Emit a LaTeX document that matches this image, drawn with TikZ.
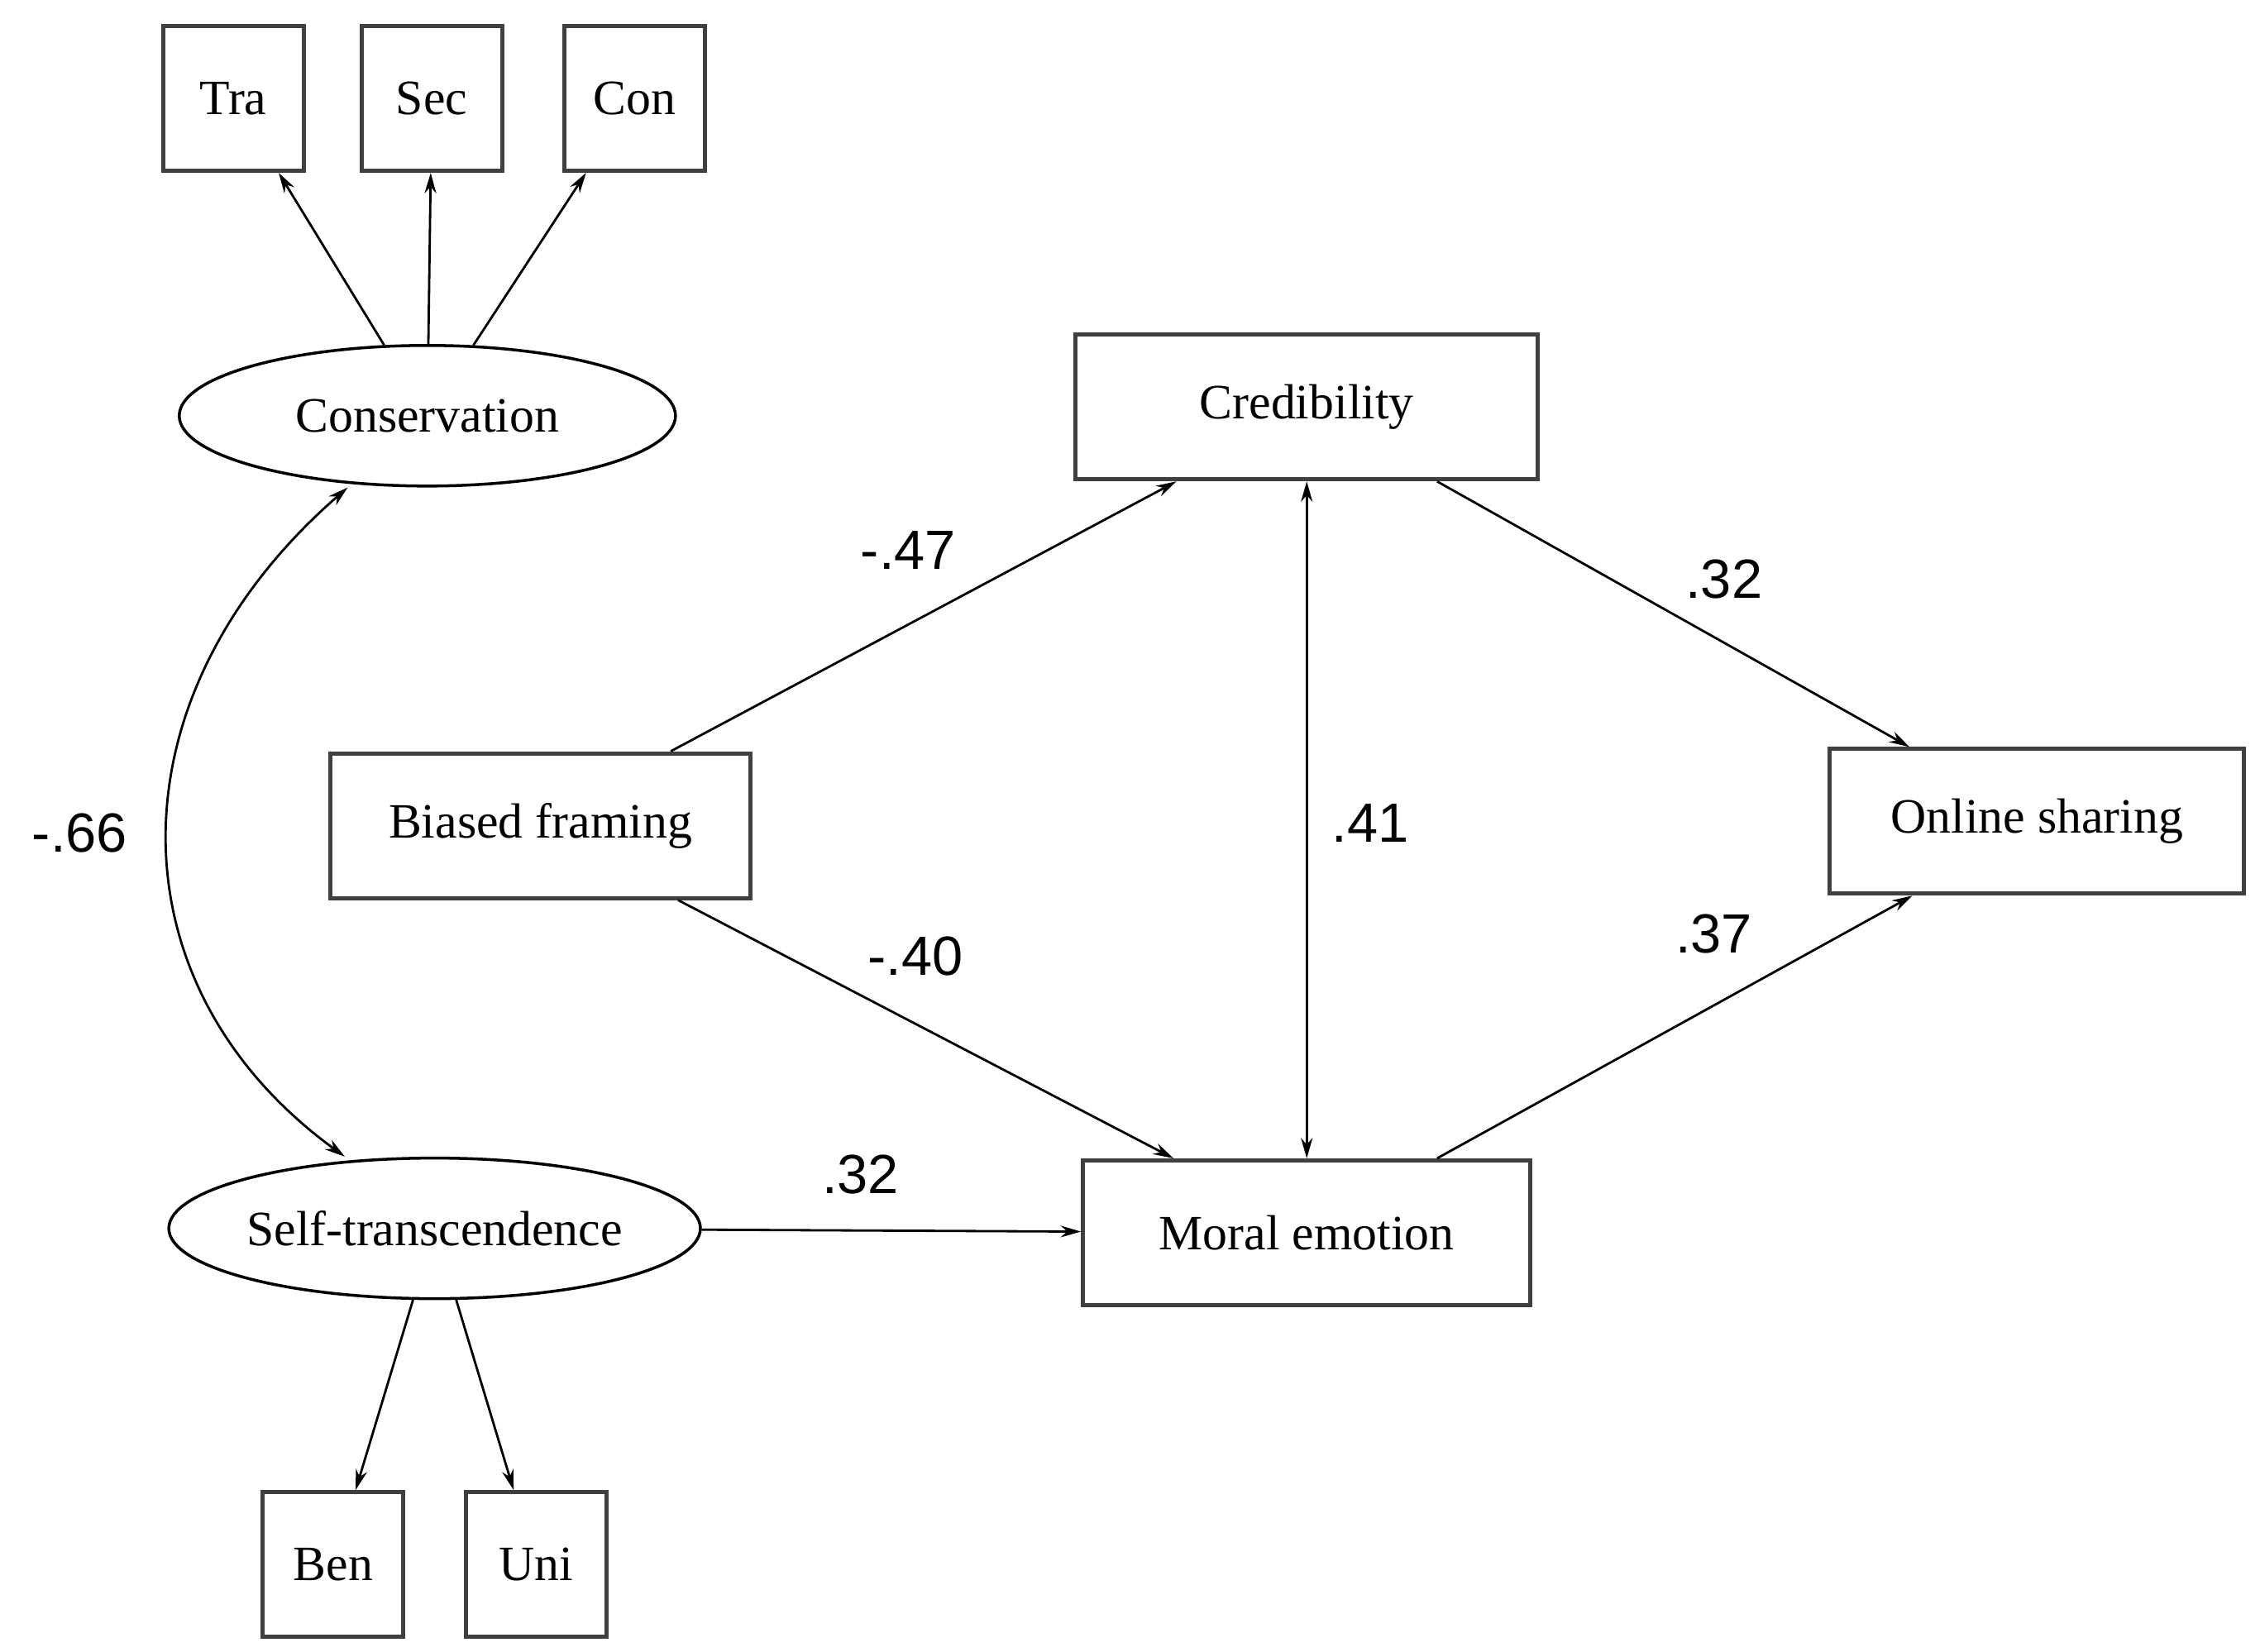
\documentclass[tikz,border=0pt]{standalone}
\usepackage{fontspec}
\setmainfont{Liberation Serif}
\newfontfamily\lblfont{Liberation Sans}
\usetikzlibrary{arrows.meta,calc,shapes.geometric}
\begin{document}
\begin{tikzpicture}[x=0.01752cm,y=-0.01752cm,
  box/.style={draw=black!75,line width=1.4pt,inner sep=0pt,font=\fontsize{17}{20}\selectfont},
  ind/.style={box,minimum width=1.7cm,minimum height=1.75cm},
  var/.style={box,minimum height=1.75cm},
  lat/.style={ellipse,draw=black,line width=1pt,inner sep=0pt,minimum height=1.7cm,font=\fontsize{17}{20}\selectfont},
  path/.style={-{Stealth[length=7pt,width=4pt]},line width=0.8pt},
  coef/.style={font=\lblfont\fontsize{19}{22}\selectfont}]
\useasboundingbox (0,0) rectangle (1560,1140);
% indicators
\node[ind] (tra) at (161,68) {Tra};
\node[ind] (sec) at (298,68) {Sec};
\node[ind] (con) at (438,68) {Con};
\node[ind] (ben) at (230,1080) {Ben};
\node[ind] (uni) at (370,1080) {Uni};
% latent factors
\node[lat,minimum width=6cm] (cons) at (295,287) {Conservation};
\node[lat,minimum width=6.25cm] (self) at (300,848) {Self-transcendence};
% observed variables
\node[var,minimum width=5.59cm] (cred) at (902,281) {Credibility};
\node[var,minimum width=5.08cm] (bias) at (373,570) {Biased framing};
\node[var,minimum width=5.01cm] (share) at (1406,567) {Online sharing};
\node[var,minimum width=5.41cm] (moral) at (902,851) {Moral emotion};
% measurement paths
\draw[path] (cons) -- (tra);
\draw[path] (cons) -- (sec);
\draw[path] (cons) -- (con);
\draw[path] (self) -- (ben);
\draw[path] (self) -- (uni);
% correlation
\coordinate (c1) at ($(cons.south)+(-55,0)$);
\coordinate (c2) at ($(self.north)+(-62,0)$);
\draw[path,{Stealth[length=7pt,width=4pt]}-{Stealth[length=7pt,width=4pt]}] (c1) .. controls (75,480) and (75,680) .. (c2);
\node[coef] (r1) at (55,575) {-.66};
% structural paths
\coordinate (b1) at ($(bias.north)+(90,0)$);
\draw[path] (b1) -- ($(cred.south)+(-90,0)$);
\draw[path] ($(bias.south)+(95,0)$) -- ($(moral.north)+(-92,0)$);
\draw[path] ($(cred.south)+(90,0)$) -- ($(share.north)+(-88,0)$);
\draw[path] ($(moral.north)+(90,0)$) -- ($(share.south)+(-86,0)$);
\draw[path,{Stealth[length=7pt,width=4pt]}-{Stealth[length=7pt,width=4pt]}] (cred) -- (moral);
\draw[path] (self) -- (moral);
% coefficients
\node[coef] (p1) at (627,380) {-.47};
\node[coef] (p2) at (1190,400) {.32};
\node[coef] (p3) at (946,568) {.41};
\node[coef] (p4) at (632,660) {-.40};
\node[coef] (p5) at (1183,645) {.37};
\node[coef] (p6) at (594,811) {.32};
\end{tikzpicture}
\end{document}
